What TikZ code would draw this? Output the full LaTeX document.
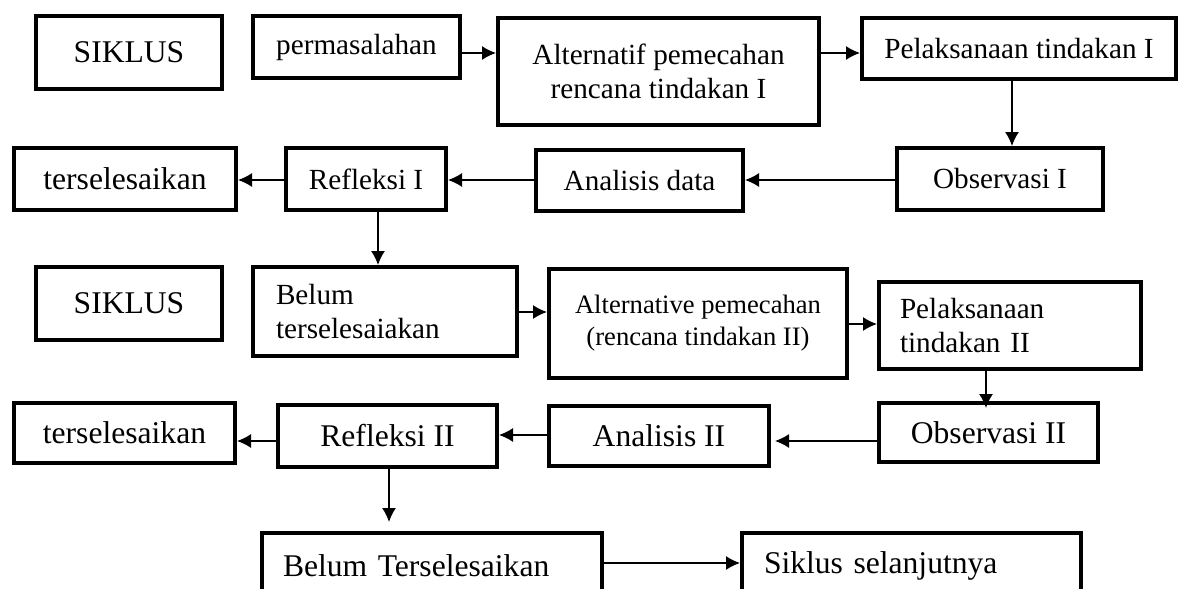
\documentclass[tikz,border=0pt]{standalone}
\usepackage{fontspec}
\setmainfont{Liberation Serif}
\usetikzlibrary{arrows.meta}

\newcommand\fnorm{\fontsize{14.6pt}{17pt}\selectfont}
\newcommand\fbig{\fontsize{15.8pt}{18pt}\selectfont}
\newcommand\fsmall{\fontsize{13.3pt}{16pt}\selectfont}

\begin{document}
\begin{tikzpicture}[x=0.5pt,y=-0.5pt,->,>={Latex[length=7pt,width=7pt]},line width=0.75pt]
  \tikzstyle{box}=[draw=black,line width=2pt,inner sep=0pt,align=center,font=\fnorm]
  \tikzstyle{leftbox}=[box,align=left]

  \useasboundingbox (0,0) rectangle (1180,589);
  \clip (0,0) rectangle (1180,589);

  \node[box,font=\fbig,minimum width=93pt,minimum height=36.5pt]   (siklusA) at (129,52.5)   {SIKLUS};
  \node[box,minimum width=103.5pt,minimum height=31pt]             (perm)    at (356.5,47)   {permasalahan};
  \node[box,minimum width=160.5pt,minimum height=53.5pt]           (altA)    at (658.5,71.5) {Alternatif pemecahan\\rencana tindakan I};
  \node[box,minimum width=157pt,minimum height=30.5pt]             (pelA)    at (1019,48.5)  {Pelaksanaan tindakan I};
  \node[box,minimum width=103pt,minimum height=31pt]               (obsA)    at (1000,179)   {Observasi I};
  \node[box,minimum width=103.5pt,minimum height=30.5pt]           (anaA)    at (639.5,180.5) {Analisis data};
  \node[box,minimum width=80pt,minimum height=31pt]                (refA)    at (366,179)    {Refleksi I};
  \node[box,font=\fbig,minimum width=111pt,minimum height=31pt]    (doneA)   at (125,179)    {terselesaikan};

  \node[box,font=\fbig,minimum width=93pt,minimum height=36.5pt]   (siklusB) at (129,303.5)  {SIKLUS};
  \node[leftbox,inner xsep=11.5pt,text width=109pt,minimum height=44.5pt] (belumA) at (385,311.5) {Belum\\terselesaiakan};
  \node[box,font=\fsmall,minimum width=149pt,minimum height=54.5pt] (altB)   at (698,323.5)  {Alternative pemecahan\\(rencana tindakan II)};
  \node[leftbox,inner xsep=10.5pt,text width=110pt,minimum height=43.5pt] (pelB) at (1010,325.5) {Pelaksanaan\\tindakan II};
  \node[box,font=\fbig,minimum width=109.5pt,minimum height=29.5pt] (obsB)   at (988.5,432.5) {Observasi II};
  \node[box,font=\fbig,minimum width=110pt,minimum height=30pt]    (anaB)    at (659,436)    {Analisis II};
  \node[box,font=\fbig,minimum width=109.5pt,minimum height=31pt]  (refB)    at (387.5,436)  {Refleksi II};
  \node[box,font=\fbig,minimum width=110.5pt,minimum height=30pt]  (doneB)   at (124.5,433)  {terselesaikan};

  \node[leftbox,font=\fbig,inner xsep=10.5pt,text width=149pt,minimum height=32.5pt] (belumB) at (432,565.5) {Belum Terselesaikan};
  \node[leftbox,font=\fbig,inner xsep=11pt,text width=147.5pt,minimum height=32.5pt] (next) at (911.5,565.5) {Siklus selanjutnya};

  \coordinate (r1) at (0,53);
  \coordinate (r2) at (0,180);
  \coordinate (r3) at (0,312);
  \coordinate (r4) at (0,324);
  \coordinate (r5) at (0,441);
  \coordinate (r6) at (0,435);
  \coordinate (r7) at (0,563);
  \coordinate (c1) at (1012,0);
  \coordinate (c2) at (378,0);
  \coordinate (c3) at (986,0);
  \coordinate (c4) at (389,0);

  \path
  (r1 -| perm.east) edge (r1 -| altA.west)
  (r1 -| altA.east) edge (r1 -| pelA.west)
  (c1 |- pelA.south) edge (c1 |- obsA.north)
  (r2 -| obsA.west) edge (r2 -| anaA.east)
  (r2 -| anaA.west) edge (r2 -| refA.east)
  (r2 -| refA.west) edge (r2 -| doneA.east)
  (c2 |- refA.south) edge (c2 |- belumA.north)
  (r3 -| belumA.east) edge (r3 -| altB.west)
  (r4 -| altB.east) edge (r4 -| pelB.west)
  (c3 |- pelB.south) edge[shorten >=-3.5pt] (c3 |- obsB.north)
  (r5 -| obsB.west) edge[shorten >=2pt] (r5 -| anaB.east)
  (r6 -| anaB.west) edge (r6 -| refB.east)
  (r5 -| refB.west) edge (r5 -| doneB.east)
  (c4 |- refB.south) edge[shorten >=4.5pt] (c4 |- belumB.north)
  (r7 -| belumB.east) edge (r7 -| next.west);
\end{tikzpicture}
\end{document}
